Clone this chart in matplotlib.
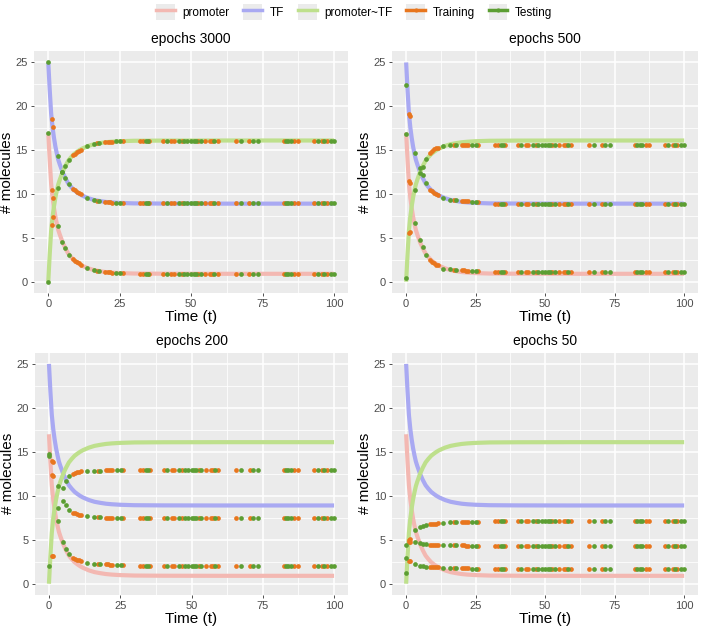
import numpy as np
import matplotlib
matplotlib.use("Agg")
import matplotlib.pyplot as plt
from matplotlib.lines import Line2D
from matplotlib.patches import Patch

plt.rcParams['font.family'] = ['Liberation Sans', 'DejaVu Sans']

# reference solution of the ODE
curve_t = [0, 0.5, 1, 1.5, 2, 2.5, 3, 3.5, 4, 5, 6, 7, 8, 9, 10, 11, 12, 14, 16, 18, 20, 22, 25, 30, 40, 60, 100]
promoter_curve = [17, 13.9, 11.2, 9.6, 8.4, 7.4, 6.6, 5.9, 5.4, 4.5, 3.8, 3.2, 2.8, 2.45, 2.2, 1.98, 1.8,
                  1.52, 1.32, 1.2, 1.1, 1.04, 0.98, 0.93, 0.91, 0.9, 0.9]
tf_curve = [25, 21.9, 19.2, 17.6, 16.4, 15.4, 14.6, 13.9, 13.4, 12.5, 11.8, 11.2, 10.8, 10.45, 10.2, 9.98, 9.8,
            9.52, 9.32, 9.2, 9.1, 9.04, 8.98, 8.93, 8.91, 8.9, 8.9]
complex_curve = [0, 3.1, 5.8, 7.4, 8.6, 9.6, 10.4, 11.1, 11.6, 12.5, 13.2, 13.8, 14.2, 14.55, 14.8, 15.02, 15.2,
                 15.48, 15.68, 15.8, 15.9, 15.96, 16.02, 16.07, 16.09, 16.1, 16.1]

# sample times of the network predictions
early_t = [0, 1.2, 1.5, 3.3, 4.9, 6.0, 7.2, 8.5, 9.2, 9.9, 10.6, 11.4, 13.4, 15.9, 17.2, 17.8,
           20.0, 20.8, 21.5, 22.2, 23.7, 25.2, 26.0]
early_set = ['test', 'train', 'train', 'test', 'test', 'test', 'test', 'train', 'train', 'train', 'train', 'train',
             'test', 'test', 'train', 'test', 'train', 'train', 'train', 'train', 'test', 'test', 'train']
late_t = [32.0, 33.0, 34.2, 34.8, 35.4, 40.3, 41.4, 43.0, 44.0, 45.6, 46.8, 47.6, 48.7, 50.0, 51.0, 51.7,
          52.5, 53.5, 55.0, 56.7, 57.4, 58.1, 59.3, 65.7, 67.5, 70.4, 71.5, 73.3, 82.4, 83.2, 84.0, 85.0,
          86.1, 87.3, 93.1, 94.3, 95.8, 96.6, 97.5, 98.8, 100.0]
late_set = ['train', 'train', 'test', 'test', 'train', 'train', 'test', 'train', 'train', 'test', 'train', 'test',
            'test', 'test', 'test', 'test', 'train', 'test', 'train', 'train', 'train', 'test', 'train', 'train',
            'test', 'train', 'test', 'test', 'train', 'test', 'test', 'test', 'train', 'train', 'train', 'test',
            'train', 'test', 'train', 'test', 'test']

# predictions, early times then the plateau value (promoter, TF, promoter~TF)
promoter_3000 = [17, 10.5, 9.6, 6.3, 4.5, 3.8, 3.1, 2.6, 2.4, 2.25, 2.1, 1.95, 1.55, 1.3, 1.22, 1.18,
                 1.1, 1.07, 1.05, 1.03, 1.0, 0.98, 0.97]
tf_3000 = [25, 18.5, 17.6, 14.3, 12.5, 11.8, 11.1, 10.6, 10.4, 10.25, 10.1, 9.95, 9.55, 9.3, 9.22, 9.18,
           9.1, 9.07, 9.05, 9.03, 9.0, 8.98, 8.97]
complex_3000 = [0, 6.5, 7.4, 10.7, 12.5, 13.2, 13.9, 14.4, 14.6, 14.75, 14.9, 15.05, 15.45, 15.7, 15.78, 15.82,
                15.9, 15.93, 15.95, 15.97, 16.0, 16.02, 16.03]
plateau_3000 = [0.92, 8.92, 16.08]

promoter_500 = [16.8, 11.5, 11.3, 6.7, 4.8, 4.0, 3.1, 2.5, 2.3, 2.1, 1.95, 1.85, 1.5, 1.4, 1.35, 1.35,
                1.3, 1.28, 1.27, 1.25, 1.22, 1.2, 1.2]
tf_500 = [22.4, 19.1, 18.9, 14.7, 13.0, 12.2, 11.2, 10.5, 10.3, 10.1, 9.95, 9.85, 9.5, 9.35, 9.3, 9.28,
          9.2, 9.18, 9.17, 9.15, 9.12, 9.1, 9.1]
complex_500 = [0.4, 5.5, 5.7, 10.5, 12.4, 13.1, 14.0, 14.7, 14.9, 15.1, 15.2, 15.3, 15.5, 15.6, 15.6, 15.6,
               15.62, 15.62, 15.62, 15.62, 15.62, 15.62, 15.62]
plateau_500 = [1.05, 8.88, 15.6]

promoter_200 = [14.8, 14.0, 13.9, 7.1, 4.8, 4.0, 3.4, 2.9, 2.8, 2.7, 2.65, 2.6, 2.4, 2.3, 2.25, 2.25,
                2.2, 2.2, 2.18, 2.17, 2.15, 2.12, 2.1]
tf_200 = [14.5, 12.4, 12.3, 11.1, 9.4, 8.9, 8.4, 8.1, 8.0, 7.9, 7.85, 7.8, 7.7, 7.6, 7.58, 7.55,
          7.5, 7.5, 7.5, 7.5, 7.48, 7.47, 7.47]
complex_200 = [2.0, 3.1, 3.2, 8.6, 10.9, 11.7, 12.3, 12.5, 12.6, 12.7, 12.75, 12.8, 12.8, 12.85, 12.85, 12.85,
               12.88, 12.88, 12.88, 12.9, 12.9, 12.9, 12.9]
plateau_200 = [2.05, 7.45, 12.9]

promoter_50 = [1.2, 2.6, 2.6, 2.2, 2.05, 2.0, 1.95, 1.9, 1.9, 1.88, 1.87, 1.85, 1.8, 1.78, 1.77, 1.77,
               1.75, 1.75, 1.74, 1.74, 1.73, 1.72, 1.72]
tf_50 = [2.9, 4.7, 4.8, 4.8, 4.65, 4.55, 4.5, 4.45, 4.45, 4.43, 4.42, 4.42, 4.4, 4.37, 4.36, 4.36,
         4.35, 4.35, 4.34, 4.34, 4.33, 4.33, 4.33]
complex_50 = [4.4, 5.0, 5.1, 6.1, 6.4, 6.55, 6.65, 6.75, 6.8, 6.82, 6.85, 6.87, 6.95, 7.0, 7.0, 7.02,
              7.03, 7.03, 7.04, 7.04, 7.05, 7.05, 7.05]
plateau_50 = [1.7, 4.3, 7.1]

panel_titles = ["epochs 3000", "epochs 500", "epochs 200", "epochs 50"]

c_promoter = '#F3B8B2'
c_tf = '#A9A9F2'
c_complex = '#BEE08C'
c_train = '#E8761E'
c_test = '#5C9E33'
bg = '#EBEBEB'

fig = plt.figure(figsize=(7.08, 6.28), dpi=100)

# panel rectangles in figure fractions
boxes = [[0.048, 0.534, 0.444, 0.384], [0.554, 0.534, 0.432, 0.384],
         [0.049, 0.053, 0.443, 0.385], [0.554, 0.053, 0.432, 0.385]]

panels = [(promoter_3000, tf_3000, complex_3000, plateau_3000),
          (promoter_500, tf_500, complex_500, plateau_500),
          (promoter_200, tf_200, complex_200, plateau_200),
          (promoter_50, tf_50, complex_50, plateau_50)]

all_t = np.array(early_t + late_t)
all_set = np.array(early_set + late_set)
n_late = len(late_t)

for box, title, (p_vals, tf_vals, c_vals, plateau) in zip(boxes, panel_titles, panels):
    ax = fig.add_axes(box)
    ax.set_facecolor(bg)
    for s in ax.spines.values():
        s.set_visible(False)

    ax.plot(curve_t, promoter_curve, color=c_promoter, lw=3.0, solid_capstyle='butt', zorder=2)
    ax.plot(curve_t, tf_curve, color=c_tf, lw=3.0, solid_capstyle='butt', zorder=2)
    ax.plot(curve_t, complex_curve, color=c_complex, lw=3.0, solid_capstyle='butt', zorder=2)

    # predictions: early readings followed by the flat part
    species = [p_vals + [plateau[0]] * n_late,
               tf_vals + [plateau[1]] * n_late,
               c_vals + [plateau[2]] * n_late]
    for vals in species:
        vals = np.array(vals)
        tr = all_set == 'train'
        ax.plot(all_t[tr], vals[tr], 'o', color=c_train, ms=3.4, mec='none', zorder=3)
        ax.plot(all_t[~tr], vals[~tr], 'o', color=c_test, ms=3.4, mec='none', zorder=4)

    ax.set_xlim(-5, 105)
    ax.set_ylim(-1.25, 26.25)
    ax.set_xticks([0, 25, 50, 75, 100])
    ax.set_yticks([0, 5, 10, 15, 20, 25])
    ax.set_xticks([12.5, 37.5, 62.5, 87.5], minor=True)
    ax.set_yticks([2.5, 7.5, 12.5, 17.5, 22.5], minor=True)
    ax.grid(which='major', color='white', lw=1.1, zorder=0)
    ax.grid(which='minor', color='white', lw=0.55, zorder=0)
    ax.set_axisbelow(True)
    ax.tick_params(which='major', length=2.5, width=0.6, color='#333333', labelcolor='#4D4D4D',
                   labelsize=8, pad=2)
    ax.tick_params(which='minor', length=0)
    ax.set_title(title, fontsize=10, pad=6)
    ax.set_xlabel("Time (t)", fontsize=11, labelpad=1)
    ax.set_ylabel("# molecules", fontsize=11, labelpad=1)

# legend with grey key boxes like ggplot
key = Patch(facecolor=bg, edgecolor='none')
handles = [(key, Line2D([], [], color=c_promoter, lw=2.5)),
           (key, Line2D([], [], color=c_tf, lw=2.5)),
           (key, Line2D([], [], color=c_complex, lw=2.5)),
           (key, Line2D([], [], color=c_train, lw=2.5, marker='o', ms=3, mec='none')),
           (key, Line2D([], [], color=c_test, lw=2.5, marker='o', ms=3, mec='none'))]
labels = ["promoter", "TF", "promoter~TF", "Training", "Testing"]
fig.legend(handles, labels, loc='center', bbox_to_anchor=(0.5, 0.981), ncol=5, frameon=False,
           fontsize=8.5, handlelength=1.6, handleheight=1.6, handletextpad=0.6, columnspacing=1.2)

fig.savefig("out.png", dpi=100)
